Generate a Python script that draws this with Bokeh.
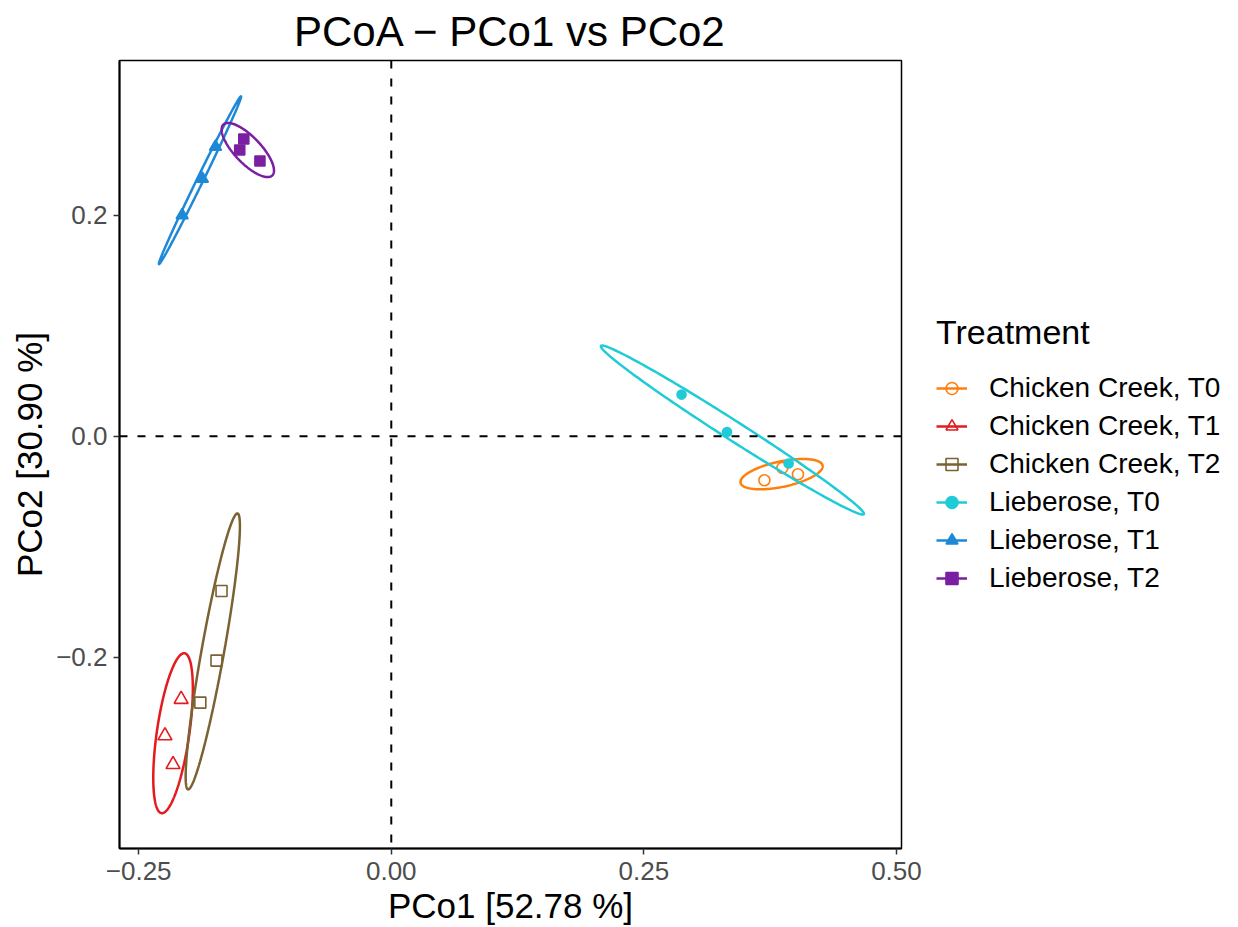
import numpy as np
from bokeh.plotting import figure
from bokeh.models import Span, Legend, LegendItem, Range1d, FixedTicker
from bokeh.embed import file_html
from bokeh.resources import INLINE

# ---------------- data ----------------
groups = ["Chicken Creek, T0", "Chicken Creek, T1", "Chicken Creek, T2",
          "Lieberose, T0", "Lieberose, T1", "Lieberose, T2"]
colors = ["#FF7F0E", "#E41A1C", "#7A6232", "#1FCBD6", "#1E88D8", "#7B1FA2"]
markers = ["circle", "triangle", "square", "circle", "triangle", "square"]
filled = [False, False, False, True, True, True]
marker_sizes = [11, 14, 11, 9, 12, 10]

cc_t0_x = [0.3693, 0.3871, 0.4025]
cc_t0_y = [-0.0398, -0.0286, -0.0344]
cc_t1_x = [-0.208, -0.224, -0.216]
cc_t1_y = [-0.238, -0.271, -0.297]
cc_t2_x = [-0.168, -0.173, -0.189]
cc_t2_y = [-0.140, -0.203, -0.241]
lb_t0_x = [0.2873, 0.3323, 0.3933]
lb_t0_y = [0.0377, 0.0039, -0.0247]
lb_t1_x = [-0.174, -0.187, -0.207]
lb_t1_y = [0.262, 0.233, 0.200]
lb_t2_x = [-0.146, -0.150, -0.130]
lb_t2_y = [0.269, 0.259, 0.249]

series_x = [cc_t0_x, cc_t1_x, cc_t2_x, lb_t0_x, lb_t1_x, lb_t2_x]
series_y = [cc_t0_y, cc_t1_y, cc_t2_y, lb_t0_y, lb_t1_y, lb_t2_y]

x_ticks = [-0.25, 0.0, 0.25, 0.50]
x_tick_labels = ["\u22120.25", "0.00", "0.25", "0.50"]
y_ticks = [-0.2, 0.0, 0.2]
y_tick_labels = ["\u22120.2", "0.0", "0.2"]

title_text = "PCoA \u2212 PCo1 vs PCo2"
x_label = "PCo1 [52.78 %]"
y_label = "PCo2 [30.90 %]"
legend_title = "Treatment"

FONT = "Liberation Sans"
FRAME_W, FRAME_H = 782, 788


def conf_ellipse(xs, ys, level_chi2=5.991, n=240):
    X = np.vstack([xs, ys])
    mu = X.mean(axis=1)
    C = np.cov(X)
    vals, vecs = np.linalg.eigh(C)
    vals = np.clip(vals, 0, None)
    t = np.linspace(0, 2 * np.pi, n)
    circ = np.vstack([np.cos(t), np.sin(t)])
    pts = mu[:, None] + np.sqrt(level_chi2) * (vecs @ (np.sqrt(vals)[:, None] * circ))
    return pts[0], pts[1]


p = figure(frame_width=FRAME_W, frame_height=FRAME_H, output_backend="svg",
           toolbar_location=None,
           x_range=Range1d(-0.269, 0.505), y_range=Range1d(-0.373, 0.340),
           min_border_left=119, min_border_top=60, min_border_right=0,
           min_border_bottom=70)

p.title.text = title_text
p.title.align = "center"
p.title.text_font = FONT
p.title.text_font_size = "42px"
p.title.text_font_style = "normal"
p.title.text_color = "black"
p.title.standoff = 11

p.xgrid.visible = False
p.ygrid.visible = False
p.outline_line_color = "black"
p.outline_line_width = 1.5
p.background_fill_color = "white"
p.border_fill_color = "white"

for ax in (p.xaxis[0], p.yaxis[0]):
    ax.axis_line_color = "black"
    ax.axis_line_width = 2
    ax.major_tick_line_color = "#333333"
    ax.major_tick_line_width = 1.5
    ax.major_tick_out = 6
    ax.major_tick_in = 0
    ax.minor_tick_line_color = None
    ax.major_label_text_font = FONT
    ax.major_label_text_font_size = "26px"
    ax.major_label_text_color = "#4D4D4D"
    ax.axis_label_text_font = FONT
    ax.axis_label_text_font_size = "35px"
    ax.axis_label_text_font_style = "normal"
    ax.axis_label_text_color = "black"

p.xaxis.ticker = FixedTicker(ticks=x_ticks)
p.yaxis.ticker = FixedTicker(ticks=y_ticks)
p.xaxis.major_label_overrides = {v: l for v, l in zip(x_ticks, x_tick_labels)}
p.yaxis.major_label_overrides = {v: l for v, l in zip(y_ticks, y_tick_labels)}
p.xaxis.axis_label = x_label
p.yaxis.axis_label = y_label
p.xaxis.major_label_standoff = 7
p.xaxis.axis_label_standoff = 3
p.yaxis.major_label_standoff = 6
p.yaxis.axis_label_standoff = 4

p.add_layout(Span(location=0, dimension="height", line_color="black",
                  line_width=2, line_dash="8 10"))
p.add_layout(Span(location=0, dimension="width", line_color="black",
                  line_width=2, line_dash="8 10"))

items = []
for g, xs, ys, c, m, f, s in zip(groups, series_x, series_y, colors, markers, filled, marker_sizes):
    ex, ey = conf_ellipse(xs, ys)
    lr = p.line(ex, ey, line_color=c, line_width=2.5)
    sr = p.scatter(xs, ys, marker=m, size=s, line_color=c, line_width=1.6,
                   fill_color=(c if f else None))
    items.append(LegendItem(label=g, renderers=[lr, sr]))

legend = Legend(items=items, title=legend_title, location=(35, 254))
legend.title_text_font = FONT
legend.title_text_font_size = "34px"
legend.title_text_font_style = "normal"
legend.title_text_color = "black"
legend.title_standoff = 20
legend.label_text_font = FONT
legend.label_text_font_size = "28px"
legend.label_text_color = "black"
legend.glyph_width = 31
legend.glyph_height = 30
legend.label_height = 30
legend.label_standoff = 22
legend.spacing = 6
legend.margin = 0
legend.padding = 0
legend.border_line_color = None
legend.background_fill_alpha = 0
p.add_layout(legend, "right")

open("out.html", "w").write(file_html(p, INLINE))
